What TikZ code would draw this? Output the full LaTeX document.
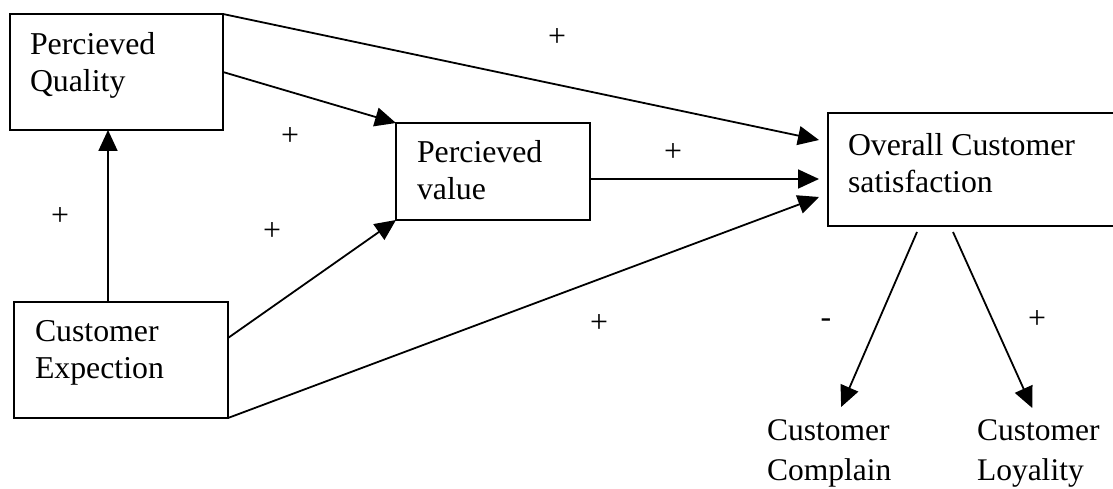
\documentclass[tikz,border=0pt]{standalone}
\usepackage{fontspec}
\setmainfont{Liberation Serif}
\usetikzlibrary{arrows.meta}
\begin{document}
\begin{tikzpicture}[x=1pt,y=-1pt,
  box/.style={draw, line width=1.8pt, inner sep=0pt, outer sep=0pt},
  txt/.style={inner sep=0pt, outer sep=0pt, align=left, anchor=north west,
              font=\fontsize{31.8}{37}\selectfont},
  lbl/.style={inner sep=0pt, outer sep=0pt, align=left, anchor=north west,
              font=\fontsize{31.5}{40}\selectfont},
  sign/.style={inner sep=0pt, font=\fontsize{31.8}{37}\selectfont},
  arr/.style={line width=1.8pt, -{Triangle[length=21pt,width=19pt]}},
  ln/.style={line width=1.8pt}]
\useasboundingbox (0,0) rectangle (1113,489);
\fill[white] (0,0) rectangle (1113,489);
% boxes
\node[box, minimum width=213pt, minimum height=116pt] (pq) at (116.5,72) {};
\node[box, minimum width=194pt, minimum height=97pt] (pv) at (493,171.5) {};
\node[box, minimum width=297pt, minimum height=113pt] (ocs) at (976.5,169.5) {};
\node[box, minimum width=214pt, minimum height=116pt] (ce) at (121,360) {};
% box texts
\node[txt] (pqt) at (30,32) {Percieved\\Quality};
\node[txt] (pvt) at (417,140) {Percieved\\value};
\node[txt] (ocst) at (848,133) {Overall Customer\\satisfaction};
\node[txt] (cet) at (35,320) {Customer\\Expection};
% outcome labels
\node[lbl] (cc) at (767,420) {Customer\\Complain};
\node[lbl] (cl) at (977,420) {Customer\\Loyality};
% connectors
\draw[arr] ([xshift=-13pt]ce.north) -- ([xshift=-13pt]ce.north |- pq.south);
\draw[arr] (pq.east) -- (pv.north west);
\draw[arr] (pq.north east) -- ([shift={(-9pt,29.5pt)}]ocs.west);
\draw[arr] ([yshift=-7.5pt]pv.east) -- ([shift={(-9pt,-9.5pt)}]ocs.west);
\draw[arr] ([yshift=22pt]ce.east) -- (pv.south west);
\draw[arr] (ce.south east) -- ([shift={(-9pt,-27.5pt)}]ocs.west);
\draw[arr] ([shift={(-59.5pt,-6pt)}]ocs.south) -- ([shift={(12pt,13pt)}]cc.north);
\draw[arr] ([shift={(-23.5pt,-6pt)}]ocs.south) -- ([shift={(-6pt,12pt)}]cl.north);
% signs
\node[sign] (s1) at (557,38) {+};
\node[sign] (s2) at (290,137) {+};
\node[sign] (s3) at (60,217) {+};
\node[sign] (s4) at (272,232) {+};
\node[sign] (s5) at (673,153) {+};
\node[sign] (s6) at (599,324) {+};
\node[sign] (s7) at (826,323) {-};
\node[sign] (s8) at (1037,320) {+};
\end{tikzpicture}
\end{document}
